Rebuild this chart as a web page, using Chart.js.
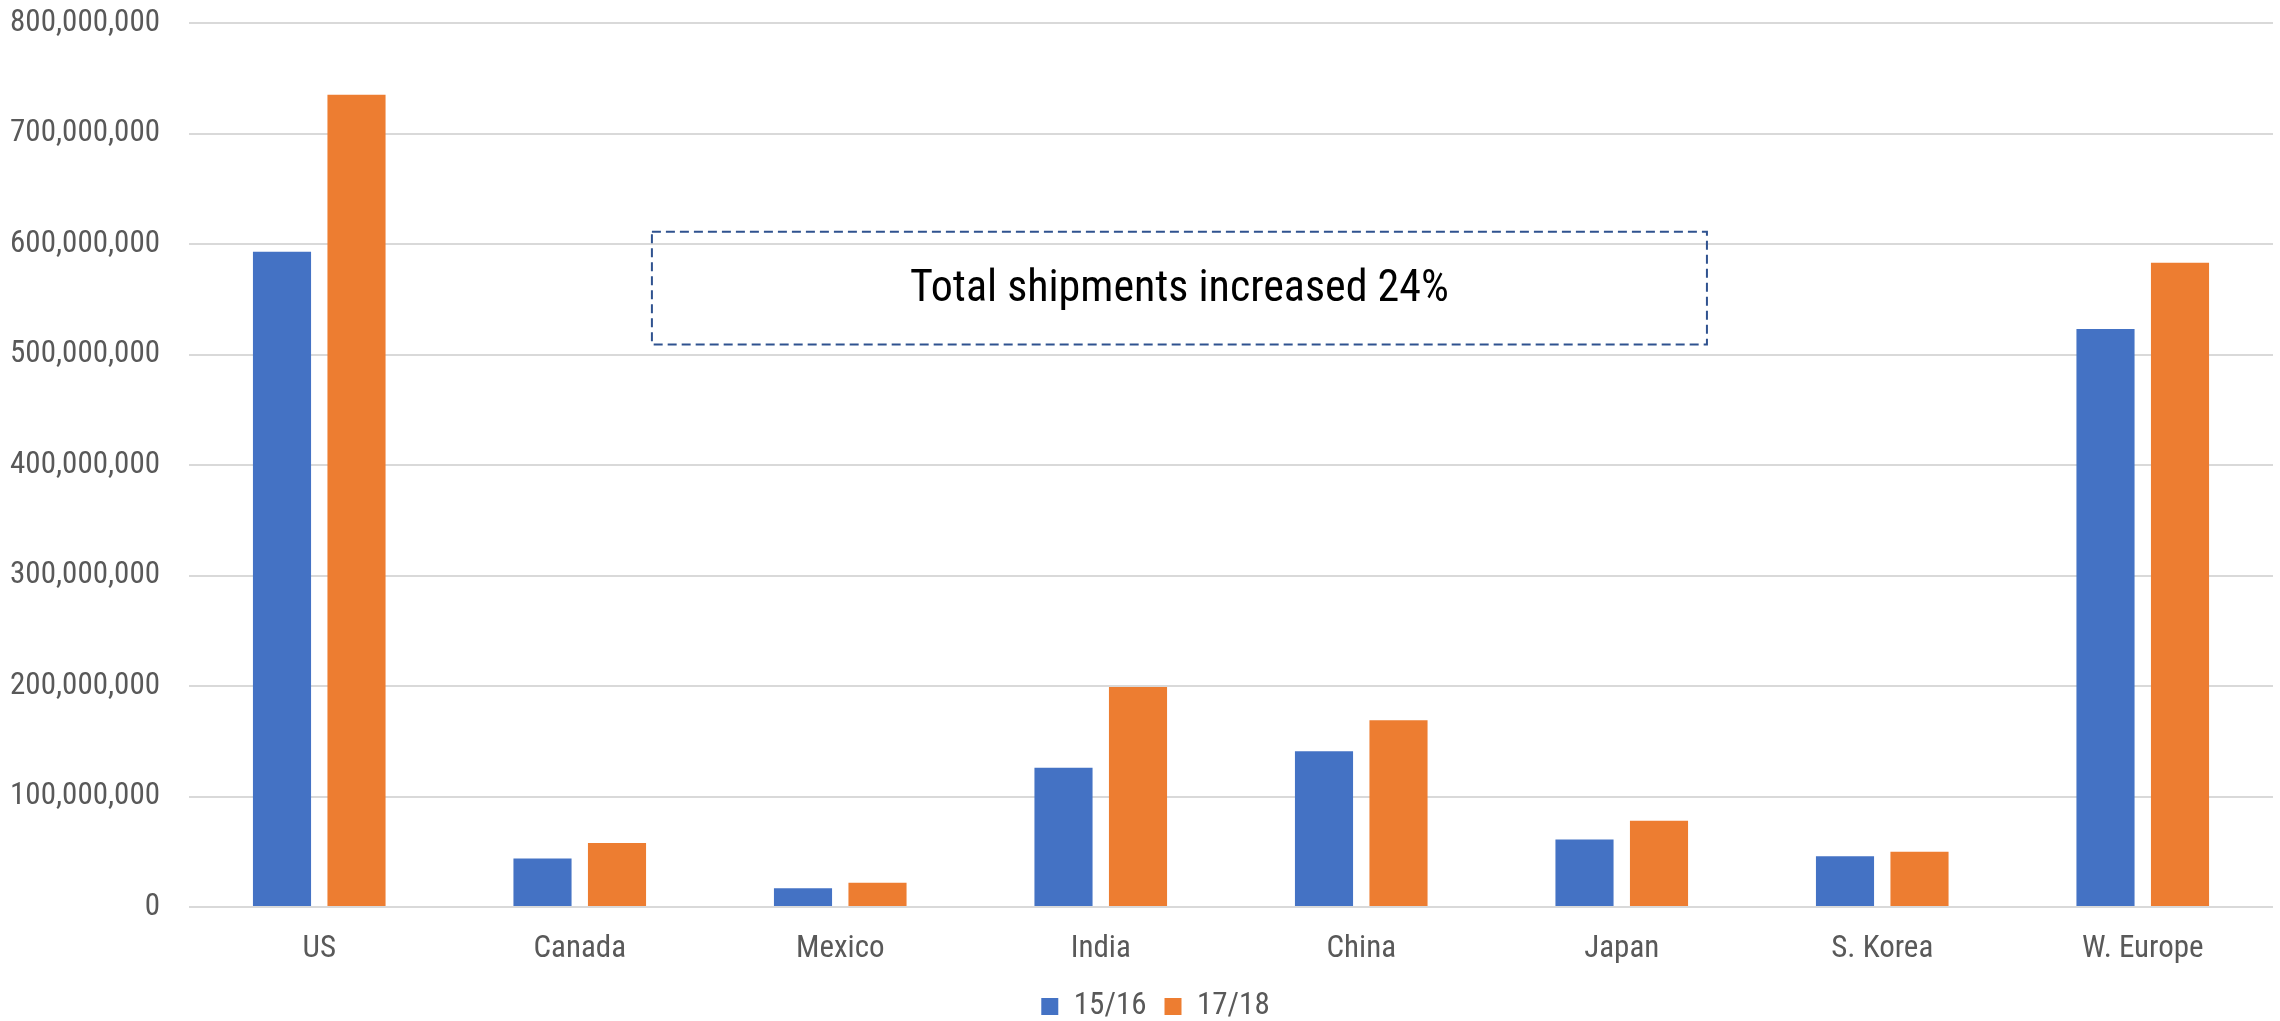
<!DOCTYPE html>
<html>
<head>
<meta charset="utf-8">
<title>Shipments by region</title>
<script src="https://cdn.jsdelivr.net/npm/chart.js@4/dist/chart.umd.min.js"></script>
<style>
  html, body { margin: 0; padding: 0; background: #ffffff; }
  #wrap { width: 2280px; height: 1021px; position: relative; }
</style>
</head>
<body>
<div id="wrap"><canvas id="chart"></canvas></div>
<script>
// Regions and shipment volumes for the two periods
const categories = ['US', 'Canada', 'Mexico', 'India', 'China', 'Japan', 'S. Korea', 'W. Europe'];
const seriesNames = ['15/16', '17/18'];
const shipments1516 = [593e6, 44e6, 17e6, 126e6, 141e6, 61e6, 46e6, 523e6];
const shipments1718 = [735e6, 58e6, 22e6, 199e6, 169e6, 78e6, 50e6, 583e6];
const yTickValues = [0, 100e6, 200e6, 300e6, 400e6, 500e6, 600e6, 700e6, 800e6];
const calloutText = 'Total shipments increased 24%';

const FONT = "'Roboto Condensed', 'Liberation Sans Narrow', 'Arial Narrow', sans-serif";
const GREY = '#595959';

// Dashed call-out box placed in data space (category index / value)
const calloutPlugin = {
  id: 'callout',
  afterDraw(chart, args, opts) {
    const {ctx, scales: {x, y}} = chart;
    const left = x.getPixelForValue(opts.xMin);
    const right = x.getPixelForValue(opts.xMax);
    const top = y.getPixelForValue(opts.yMax);
    const bottom = y.getPixelForValue(opts.yMin);
    ctx.save();
    ctx.strokeStyle = opts.borderColor;
    ctx.lineWidth = opts.borderWidth;
    ctx.setLineDash(opts.dash);
    ctx.strokeRect(left, top, right - left, bottom - top);
    ctx.setLineDash([]);
    ctx.fillStyle = opts.color;
    ctx.font = opts.font;
    ctx.textAlign = 'center';
    ctx.textBaseline = 'middle';
    ctx.fillText(opts.text, (left + right) / 2, (top + bottom) / 2 + 2);
    ctx.restore();
  }
};

// Nudges the bottom legend sideways after layout
const legendShiftPlugin = {
  id: 'legendShift',
  afterLayout(chart, args, opts) {
    const lg = chart.legend;
    if (lg) { lg.left += opts.dx; lg.right += opts.dx; }
  }
};

new Chart(document.getElementById('chart'), {
  type: 'bar',
  data: {
    labels: categories,
    datasets: [
      { label: seriesNames[0], data: shipments1516, backgroundColor: '#4472C4' },
      { label: seriesNames[1], data: shipments1718, backgroundColor: '#ED7D31' }
    ]
  },
  options: {
    responsive: true,
    maintainAspectRatio: false,
    animation: false,
    datasets: { bar: { categoryPercentage: 0.572, barPercentage: 0.78 } },
    layout: { padding: { top: 23, right: 7, left: 0, bottom: 0 } },
    scales: {
      x: {
        grid: { display: false },
        border: { display: false },
        ticks: { color: GREY, font: { family: FONT, size: 31 }, padding: 16 },
        afterFit(scale) { scale.height = 66; }
      },
      y: {
        min: 0,
        max: 800e6,
        grid: { color: '#d9d9d9', lineWidth: 2, drawTicks: false },
        border: { display: false },
        afterBuildTicks(scale) { scale.ticks = yTickValues.map(v => ({ value: v })); },
        ticks: {
          color: GREY,
          font: { family: FONT, size: 31 },
          padding: 29,
          callback: v => Number(v).toLocaleString('en-US')
        },
        afterFit(scale) {
          scale.width = 189;
          scale.paddingTop = 0;
          scale.paddingBottom = 0;
        }
      }
    },
    plugins: {
      tooltip: { enabled: false },
      legend: {
        position: 'bottom',
        maxHeight: 48,
        labels: {
          color: GREY,
          font: { family: FONT, size: 31 },
          boxWidth: 17,
          boxHeight: 17,
          padding: 18
        }
      },
      legendShift: { dx: 19 },
      callout: {
        xMin: 1.277, xMax: 5.327, yMin: 509e6, yMax: 611e6,
        borderColor: '#2F528F', borderWidth: 2, dash: [9, 5],
        color: '#000000', font: "44px " + FONT, text: calloutText
      }
    }
  },
  plugins: [calloutPlugin, legendShiftPlugin]
});
</script>
</body>
</html>
